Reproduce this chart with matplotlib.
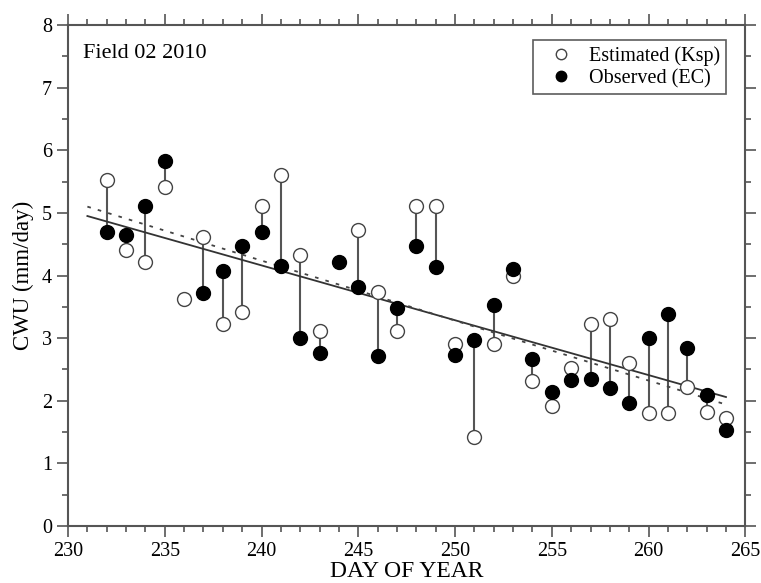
import matplotlib as mpl
mpl.use('Agg')
import matplotlib.pyplot as plt
import numpy as np
from matplotlib.ticker import MultipleLocator

# day of year and crop water use (mm/day)
days = [232, 233, 234, 235, 236, 237, 238, 239, 240, 241, 242, 243, 244, 245, 246, 247, 248,
        249, 250, 251, 252, 253, 254, 255, 256, 257, 258, 259, 260, 261, 262, 263, 264]
estimated = [5.52, 4.41, 4.22, 5.42, 3.62, 4.62, 3.22, 3.42, 5.11, 5.61, 4.32, 3.12, np.nan,
             4.72, 3.73, 3.12, 5.11, 5.11, 2.91, 1.42, 2.91, 4.00, 2.31, 1.92, 2.52, 3.22,
             3.31, 2.61, 1.81, 1.81, 2.22, 1.82, 1.72]
observed = [4.70, 4.65, 5.11, 5.83, np.nan, 3.72, 4.07, 4.47, 4.70, 4.16, 3.00, 2.77, 4.22,
            3.82, 2.71, 3.48, 4.47, 4.14, 2.73, 2.97, 3.53, 4.10, 2.67, 2.14, 2.33, 2.34,
            2.20, 1.96, 3.01, 3.38, 2.85, 2.10, 1.54]

# trend lines (end points)
trend_days = [231, 264]
trend_solid = [4.95, 2.06]
trend_dashed = [5.10, 1.94]

plt.rcParams['font.family'] = ['Liberation Serif', 'DejaVu Serif']

fig = plt.figure(figsize=(7.61, 5.83), dpi=100)
ax = fig.add_axes([0.0894, 0.0977, 0.8900, 0.8594])

days = np.array(days)
est = np.array(estimated)
obs = np.array(observed)

# stems joining the two values of each day
for d, e, o in zip(days, est, obs):
    if not (np.isnan(e) or np.isnan(o)):
        ax.plot([d, d], [e, o], color='#555555', linewidth=1.5, zorder=1)

ax.plot(trend_days, trend_solid, color='#333333', linewidth=1.3, zorder=2)
ax.plot(trend_days, trend_dashed, color='#444444', linewidth=1.3, linestyle=(0, (2, 4)), zorder=2)

ax.plot(days, est, 'o', markersize=10, markerfacecolor='white', markeredgecolor='#444444',
        markeredgewidth=1.0, linestyle='none', label='Estimated (Ksp)', zorder=3)
ax.plot(days, obs, 'o', markersize=10, markerfacecolor='black', markeredgecolor='black',
        linestyle='none', label='Observed (EC)', zorder=4)

ax.set_xlim(230, 265)
ax.set_ylim(0, 8)
ax.xaxis.set_major_locator(MultipleLocator(5))
ax.xaxis.set_minor_locator(MultipleLocator(1))
ax.yaxis.set_major_locator(MultipleLocator(1))
ax.yaxis.set_minor_locator(MultipleLocator(0.5))
ax.tick_params(which='both', direction='out', top=True, right=True, color='#555555',
               labelsize=14.5, width=1.2)
ax.tick_params(which='major', length=8)
ax.tick_params(which='minor', length=4.5)
for s in ax.spines.values():
    s.set_color('#555555')
    s.set_linewidth(1.5)

ax.set_xlabel('DAY OF YEAR', fontsize=17, labelpad=0)
ax.set_ylabel('CWU (mm/day)', fontsize=16.5, labelpad=6)
ax.text(0.022, 0.962, 'Field 02 2010', transform=ax.transAxes, fontsize=16, va='top', ha='left')

leg = ax.legend(loc='upper right', bbox_to_anchor=(0.972, 0.970), borderaxespad=0, fontsize=14.5,
                frameon=True, fancybox=False, handletextpad=0.3, borderpad=0.3, handlelength=2.2,
                labelspacing=0.15, markerscale=0.75)
leg.get_frame().set_edgecolor('#333333')
leg.get_frame().set_linewidth(1.2)

plt.savefig('out.png', dpi=100)
